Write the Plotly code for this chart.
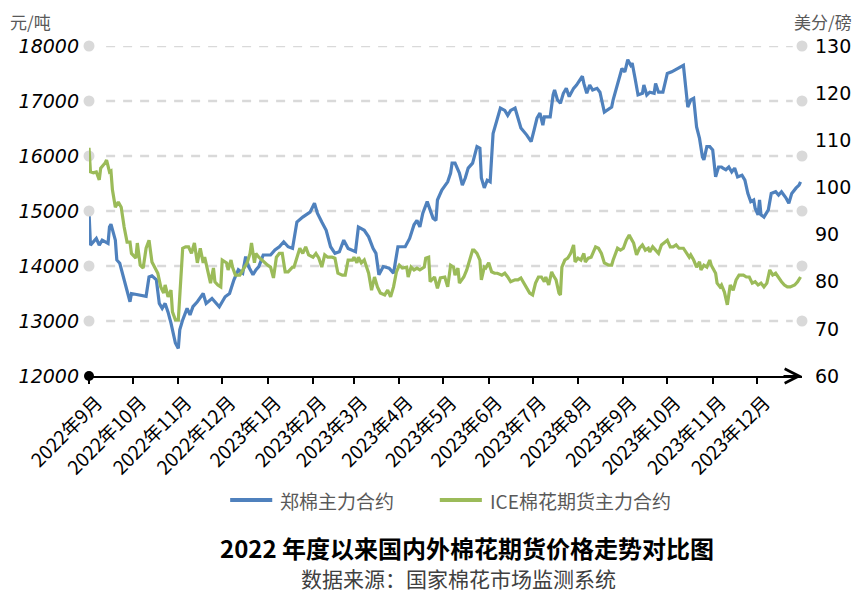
import plotly.graph_objects as go

# 郑棉主力合约, 元/吨 (left axis)
zc_dates = [
    "2022-09-01", "2022-09-02", "2022-09-06", "2022-09-08", "2022-09-10", "2022-09-14", "2022-09-15", "2022-09-16",
    "2022-09-19", "2022-09-20", "2022-09-22", "2022-09-25", "2022-09-29", "2022-09-30", "2022-10-10", "2022-10-12",
    "2022-10-14", "2022-10-17", "2022-10-19", "2022-10-21", "2022-10-23", "2022-10-25", "2022-10-27", "2022-10-30",
    "2022-11-01", "2022-11-02", "2022-11-04", "2022-11-07", "2022-11-09", "2022-11-11", "2022-11-14", "2022-11-18",
    "2022-11-20", "2022-11-24", "2022-11-29", "2022-12-03", "2022-12-06", "2022-12-09", "2022-12-12", "2022-12-15",
    "2022-12-17", "2022-12-19", "2022-12-22", "2022-12-24", "2022-12-26", "2022-12-29", "2023-01-03", "2023-01-06",
    "2023-01-09", "2023-01-12", "2023-01-15", "2023-01-18", "2023-01-21", "2023-01-25", "2023-01-30", "2023-02-02",
    "2023-02-04", "2023-02-07", "2023-02-10", "2023-02-13", "2023-02-16", "2023-02-19", "2023-02-22", "2023-02-25",
    "2023-03-02", "2023-03-04", "2023-03-08", "2023-03-11", "2023-03-14", "2023-03-16", "2023-03-18", "2023-03-21",
    "2023-03-25", "2023-03-28", "2023-03-30", "2023-03-31", "2023-04-05", "2023-04-08", "2023-04-11", "2023-04-13",
    "2023-04-15", "2023-04-17", "2023-04-20", "2023-04-24", "2023-04-26", "2023-04-27", "2023-04-30", "2023-05-04",
    "2023-05-06", "2023-05-07", "2023-05-09", "2023-05-12", "2023-05-14", "2023-05-16", "2023-05-18", "2023-05-21",
    "2023-05-24", "2023-05-26", "2023-05-27", "2023-05-29", "2023-05-31", "2023-06-02", "2023-06-04", "2023-06-07",
    "2023-06-09", "2023-06-12", "2023-06-14", "2023-06-16", "2023-06-19", "2023-06-21", "2023-06-23", "2023-06-27",
    "2023-06-30", "2023-07-02", "2023-07-04", "2023-07-06", "2023-07-08", "2023-07-09", "2023-07-13", "2023-07-15",
    "2023-07-16", "2023-07-18", "2023-07-20", "2023-07-22", "2023-07-24", "2023-07-26", "2023-07-29", "2023-07-31",
    "2023-08-02", "2023-08-04", "2023-08-05", "2023-08-07", "2023-08-09", "2023-08-11", "2023-08-14", "2023-08-16",
    "2023-08-19", "2023-08-21", "2023-08-24", "2023-08-25", "2023-08-28", "2023-08-31", "2023-09-02", "2023-09-04",
    "2023-09-06", "2023-09-07", "2023-09-09", "2023-09-11", "2023-09-14", "2023-09-15", "2023-09-17", "2023-09-19",
    "2023-09-22", "2023-09-23", "2023-09-25", "2023-09-28", "2023-10-01", "2023-10-04", "2023-10-12", "2023-10-15",
    "2023-10-17", "2023-10-19", "2023-10-21", "2023-10-23", "2023-10-25", "2023-10-26", "2023-10-28", "2023-10-30",
    "2023-11-01", "2023-11-03", "2023-11-05", "2023-11-07", "2023-11-08", "2023-11-10", "2023-11-12", "2023-11-14",
    "2023-11-16", "2023-11-18", "2023-11-21", "2023-11-23", "2023-11-25", "2023-11-27", "2023-11-29", "2023-11-30",
    "2023-12-02", "2023-12-03", "2023-12-04", "2023-12-06", "2023-12-09", "2023-12-11", "2023-12-14", "2023-12-16",
    "2023-12-18", "2023-12-21", "2023-12-23", "2023-12-25", "2023-12-28", "2023-12-30", "2023-12-31",
]
zc_price = [
    14990, 14380, 14500, 14380, 14470, 14410, 14710, 14760,
    14470, 14110, 14050, 13750, 13350, 13500, 13450, 13800,
    13820, 13750, 13320, 13230, 13320, 13160, 12960, 12600,
    12500, 12840, 13020, 13230, 13110, 13260, 13350, 13500,
    13320, 13410, 13260, 13440, 13500, 13750, 13930, 13870,
    14170, 13990, 13840, 13930, 13990, 14200, 14200, 14290,
    14350, 14440, 14350, 14320, 14800, 14890, 14980, 15140,
    14960, 14800, 14650, 14350, 14230, 14260, 14470, 14320,
    14260, 14710, 14650, 14530, 14320, 14230, 13840, 13990,
    13960, 13870, 14230, 14350, 14350, 14500, 14750, 14830,
    14710, 14960, 15170, 14870, 14830, 15200, 15380, 15530,
    15690, 15870, 15870, 15690, 15470, 15600, 15780, 15870,
    16170, 16140, 15600, 15420, 15560, 15530, 16410, 16690,
    16870, 16830, 16740, 16830, 16870, 16690, 16510, 16380,
    16260, 16470, 16690, 16780, 16560, 16710, 16710, 17110,
    17200, 17020, 16960, 17140, 17230, 17080, 17230, 17290,
    17380, 17450, 17320, 17140, 17290, 17200, 17230, 17160,
    16800, 16830, 16890, 17020, 17320, 17590, 17530, 17750,
    17650, 17690, 17410, 17110, 17140, 17290, 17110, 17160,
    17140, 17320, 17160, 17160, 17500, 17530, 17650, 16890,
    17020, 17050, 16530, 16320, 15980, 15930, 16170, 16170,
    16110, 15620, 15800, 15800, 15780, 15750, 15800, 15710,
    15780, 15620, 15650, 15560, 15320, 15170, 15200, 15050,
    14930, 15200, 14930, 14890, 15020, 15320, 15350, 15290,
    15350, 15240, 15140, 15320, 15420, 15470, 15530,
]

# ICE棉花期货主力合约, 美分/磅 (right axis)
ice_dates = [
    "2022-09-01", "2022-09-02", "2022-09-04", "2022-09-06", "2022-09-08", "2022-09-09", "2022-09-12", "2022-09-13",
    "2022-09-15", "2022-09-16", "2022-09-17", "2022-09-19", "2022-09-21", "2022-09-23", "2022-09-25", "2022-09-27",
    "2022-09-29", "2022-09-30", "2022-10-03", "2022-10-04", "2022-10-06", "2022-10-08", "2022-10-10", "2022-10-12",
    "2022-10-14", "2022-10-16", "2022-10-18", "2022-10-20", "2022-10-22", "2022-10-23", "2022-10-25", "2022-10-27",
    "2022-10-28", "2022-10-30", "2022-11-01", "2022-11-04", "2022-11-06", "2022-11-08", "2022-11-10", "2022-11-12",
    "2022-11-13", "2022-11-14", "2022-11-16", "2022-11-18", "2022-11-19", "2022-11-22", "2022-11-23", "2022-11-25",
    "2022-11-26", "2022-11-28", "2022-11-30", "2022-12-01", "2022-12-04", "2022-12-05", "2022-12-07", "2022-12-08",
    "2022-12-10", "2022-12-13", "2022-12-16", "2022-12-18", "2022-12-20", "2022-12-21", "2022-12-23", "2022-12-24",
    "2022-12-26", "2022-12-28", "2022-12-30", "2023-01-01", "2023-01-03", "2023-01-05", "2023-01-07", "2023-01-09",
    "2023-01-11", "2023-01-13", "2023-01-15", "2023-01-18", "2023-01-19", "2023-01-21", "2023-01-23", "2023-01-25",
    "2023-01-27", "2023-01-29", "2023-02-01", "2023-02-03", "2023-02-05", "2023-02-07", "2023-02-09", "2023-02-11",
    "2023-02-14", "2023-02-16", "2023-02-18", "2023-02-21", "2023-02-23", "2023-02-25", "2023-02-28", "2023-03-01",
    "2023-03-03", "2023-03-04", "2023-03-06", "2023-03-08", "2023-03-10", "2023-03-11", "2023-03-13", "2023-03-15",
    "2023-03-17", "2023-03-19", "2023-03-22", "2023-03-24", "2023-03-26", "2023-03-28", "2023-03-30", "2023-04-01",
    "2023-04-03", "2023-04-06", "2023-04-07", "2023-04-09", "2023-04-11", "2023-04-13", "2023-04-15", "2023-04-18",
    "2023-04-19", "2023-04-21", "2023-04-22", "2023-04-25", "2023-04-27", "2023-04-29", "2023-05-02", "2023-05-04",
    "2023-05-06", "2023-05-08", "2023-05-09", "2023-05-11", "2023-05-12", "2023-05-15", "2023-05-17", "2023-05-19",
    "2023-05-21", "2023-05-22", "2023-05-24", "2023-05-26", "2023-05-27", "2023-05-29", "2023-05-30", "2023-06-01",
    "2023-06-03", "2023-06-05", "2023-06-07", "2023-06-10", "2023-06-12", "2023-06-14", "2023-06-16", "2023-06-19",
    "2023-06-21", "2023-06-23", "2023-06-25", "2023-06-27", "2023-06-29", "2023-07-01", "2023-07-03", "2023-07-05",
    "2023-07-07", "2023-07-09", "2023-07-10", "2023-07-12", "2023-07-14", "2023-07-15", "2023-07-17", "2023-07-19",
    "2023-07-20", "2023-07-21", "2023-07-23", "2023-07-25", "2023-07-27", "2023-07-29", "2023-07-30", "2023-08-01",
    "2023-08-03", "2023-08-05", "2023-08-06", "2023-08-08", "2023-08-10", "2023-08-13", "2023-08-15", "2023-08-17",
    "2023-08-19", "2023-08-22", "2023-08-24", "2023-08-25", "2023-08-27", "2023-08-28", "2023-08-30", "2023-09-01",
    "2023-09-03", "2023-09-05", "2023-09-06", "2023-09-08", "2023-09-10", "2023-09-12", "2023-09-14", "2023-09-16",
    "2023-09-18", "2023-09-19", "2023-09-21", "2023-09-23", "2023-09-25", "2023-09-27", "2023-09-29", "2023-10-01",
    "2023-10-03", "2023-10-05", "2023-10-07", "2023-10-09", "2023-10-12", "2023-10-14", "2023-10-16", "2023-10-17",
    "2023-10-19", "2023-10-21", "2023-10-23", "2023-10-24", "2023-10-26", "2023-10-28", "2023-10-30", "2023-10-31",
    "2023-11-03", "2023-11-04", "2023-11-06", "2023-11-07", "2023-11-09", "2023-11-11", "2023-11-12", "2023-11-13",
    "2023-11-15", "2023-11-17", "2023-11-19", "2023-11-22", "2023-11-24", "2023-11-26", "2023-11-28", "2023-11-30",
    "2023-12-02", "2023-12-04", "2023-12-06", "2023-12-08", "2023-12-10", "2023-12-12", "2023-12-14", "2023-12-16",
    "2023-12-18", "2023-12-20", "2023-12-22", "2023-12-24", "2023-12-27", "2023-12-29", "2023-12-31",
]
ice_price = [
    108.4, 103.3, 103.1, 103.3, 101.6, 104.1, 105.2, 105.8,
    103.3, 103.5, 99.5, 95.8, 96.9, 95.8, 91.6, 88.4,
    88.4, 86.0, 85.0, 88.2, 83.5, 82.9, 87.1, 88.8,
    84.2, 83.1, 81.8, 78.9, 77.6, 79.3, 76.8, 78.2,
    73.6, 71.9, 71.9, 87.1, 87.4, 87.4, 86.0, 88.2,
    86.0, 84.0, 87.1, 84.0, 85.2, 81.0, 79.7, 82.9,
    80.0, 79.3, 78.9, 84.6, 84.0, 82.5, 84.6, 83.1,
    81.4, 81.4, 83.1, 84.0, 86.0, 88.2, 84.0, 86.0,
    85.2, 84.6, 84.0, 83.5, 83.1, 80.8, 85.2, 86.0,
    86.0, 82.1, 82.1, 83.1, 83.1, 85.2, 87.1, 86.0,
    87.4, 85.7, 85.2, 86.0, 85.0, 83.1, 85.7, 85.2,
    85.2, 85.0, 81.8, 81.4, 81.4, 84.6, 84.6, 85.2,
    84.0, 85.2, 84.0, 84.6, 82.5, 81.8, 78.2, 81.0,
    78.9, 77.6, 77.2, 78.2, 76.8, 78.9, 82.1, 83.5,
    82.9, 83.1, 81.0, 83.1, 82.5, 82.9, 82.5, 83.1,
    85.0, 85.2, 80.0, 81.0, 78.6, 80.8, 81.0, 78.9,
    83.5, 83.1, 81.4, 82.9, 79.7, 81.0, 82.5, 84.6,
    86.7, 86.7, 86.0, 84.6, 80.4, 83.1, 82.9, 84.0,
    82.1, 81.8, 81.8, 81.4, 81.8, 81.0, 80.0, 80.4,
    80.4, 80.8, 79.7, 78.9, 77.6, 77.2, 79.7, 81.0,
    81.0, 80.0, 81.0, 79.3, 82.1, 81.4, 80.4, 77.6,
    77.2, 83.1, 84.6, 85.0, 86.0, 87.8, 84.2, 85.0,
    84.6, 86.0, 84.2, 85.0, 85.2, 87.4, 87.1, 86.0,
    84.0, 83.5, 83.5, 84.6, 86.0, 87.1, 86.7, 87.1,
    88.8, 89.9, 89.3, 88.2, 85.7, 87.1, 87.8, 86.7,
    87.1, 86.3, 87.4, 86.7, 86.0, 87.8, 88.2, 88.8,
    87.4, 87.4, 87.8, 87.1, 87.1, 86.0, 85.2, 85.7,
    84.6, 83.1, 84.2, 82.5, 83.5, 83.1, 84.6, 83.5,
    81.8, 79.7, 78.9, 79.3, 77.8, 75.1, 76.8, 79.3,
    78.2, 80.4, 81.4, 81.4, 81.0, 81.0, 79.7, 80.0,
    79.3, 79.7, 78.9, 79.7, 82.5, 81.4, 81.8, 80.8,
    80.0, 79.3, 78.9, 78.9, 79.3, 80.0, 81.0,
]

month_starts = [
    "2022-09-01", "2022-10-01", "2022-11-01", "2022-12-01", "2023-01-01", "2023-02-01", "2023-03-01", "2023-04-01",
    "2023-05-01", "2023-06-01", "2023-07-01", "2023-08-01", "2023-09-01", "2023-10-01", "2023-11-01", "2023-12-01",
]
month_labels = [
    "2022年9月", "2022年10月", "2022年11月", "2022年12月", "2023年1月", "2023年2月", "2023年3月", "2023年4月",
    "2023年5月", "2023年6月", "2023年7月", "2023年8月", "2023年9月", "2023年10月", "2023年11月", "2023年12月",
]
left_ticks = [12000, 13000, 14000, 15000, 16000, 17000, 18000]
right_ticks = [60, 70, 80, 90, 100, 110, 120, 130]
grid_levels = [13000, 14000, 15000, 16000, 17000, 18000]
series_names = ["郑棉主力合约", "ICE棉花期货主力合约"]
series_colors = ["#4F81BD", "#9BBB59"]

x_start, x_end = "2022-09-01", "2024-01-01"
cjk = "Noto Sans CJK SC"

fig = go.Figure()

fig.add_trace(go.Scatter(x=zc_dates, y=zc_price, name=series_names[0], mode="lines",
                         line=dict(color=series_colors[0], width=3.2)))
fig.add_trace(go.Scatter(x=ice_dates, y=ice_price, name=series_names[1], mode="lines", yaxis="y2",
                         line=dict(color=series_colors[1], width=3.2)))

# grey dots at both ends of each gridline, black dot at the origin
fig.add_trace(go.Scatter(x=[x_start] * len(grid_levels) + [x_end] * len(grid_levels),
                         y=grid_levels + grid_levels, mode="markers", cliponaxis=False,
                         marker=dict(color="#d9d9d9", size=11), hoverinfo="skip"))
fig.add_trace(go.Scatter(x=[x_start], y=[left_ticks[0]], mode="markers", cliponaxis=False,
                         marker=dict(color="black", size=10), hoverinfo="skip"))

# dashed gridlines, inset from the dots
for lvl in grid_levels:
    fig.add_shape(type="line", xref="paper", yref="y", x0=0.024, x1=0.987, y0=lvl, y1=lvl,
                  line=dict(color="#d9d9d9", width=2.5, dash="9px,8px"), layer="below")

# legend drawn by hand: long line samples like the original
legend_items = [(0.198, 0.257, 0.265), (0.492, 0.551, 0.560)]
annotations = []
for (x0, x1, xt), name, color in zip(legend_items, series_names, series_colors):
    fig.add_shape(type="line", xref="paper", yref="paper", x0=x0, x1=x1, y0=-0.376, y1=-0.376,
                  line=dict(color=color, width=4))
    annotations.append(dict(text=name, xref="paper", yref="paper", x=xt, y=-0.376,
                            xanchor="left", yanchor="middle", showarrow=False,
                            font=dict(family=cjk, size=19, color="#595959")))

annotations += [
    dict(text="元/吨", xref="paper", yref="paper", x=-0.112, y=1.115, xanchor="left", yanchor="top",
         showarrow=False, borderpad=0, font=dict(family=cjk, size=17, color="#595959")),
    dict(text="美分/磅", xref="paper", yref="paper", x=1.072, y=1.115, xanchor="right", yanchor="top",
         showarrow=False, borderpad=0, font=dict(family=cjk, size=17, color="#595959")),
    dict(text="<b>2022 年度以来国内外棉花期货价格走势对比图</b>", xref="paper", yref="paper",
         x=0.530, y=-0.521, xanchor="center", yanchor="middle", showarrow=False,
         font=dict(family=cjk, size=24, color="black")),
    dict(text="数据来源：国家棉花市场监测系统", xref="paper", yref="paper",
         x=0.518, y=-0.612, xanchor="center", yanchor="middle", showarrow=False,
         font=dict(family=cjk, size=21, color="#404040")),
    # arrow head at the end of the time axis
    dict(text="", xref="paper", yref="paper", x=1.0, y=0.0, ax=-20, ay=0,
         showarrow=True, arrowhead=5, arrowsize=1.4, arrowwidth=2, arrowcolor="black"),
]

# the page adds an 8px body margin, so the figure is 8px smaller on each axis
fig.update_layout(
    width=853, height=596,
    margin=dict(l=81, r=59, t=38, b=228, autoexpand=False),
    plot_bgcolor="white", paper_bgcolor="white",
    showlegend=False,
    xaxis=dict(type="date", range=[x_start, x_end], showgrid=False, zeroline=False, automargin=False,
               showline=True, linecolor="black", linewidth=2,
               ticks="outside", tickcolor="black", tickwidth=2, ticklen=6,
               tickmode="array", tickvals=month_starts, ticktext=month_labels, tickangle=-45,
               tickfont=dict(family=cjk, size=19, color="black"), ticklabelshift=8),
    yaxis=dict(range=[12000, 18000], tickmode="array", tickvals=left_ticks, tickformat="d",
               showgrid=False, zeroline=False, automargin=False,
               tickfont=dict(family="DejaVu Sans", size=19, color="black", style="italic"),
               ticklabelstandoff=9),
    yaxis2=dict(range=[60, 130], tickmode="array", tickvals=right_ticks, overlaying="y", side="right",
                showgrid=False, zeroline=False, automargin=False,
                tickfont=dict(family="DejaVu Sans", size=19, color="black"), ticklabelstandoff=12),
    annotations=annotations,
)

fig.write_html("out.html")
